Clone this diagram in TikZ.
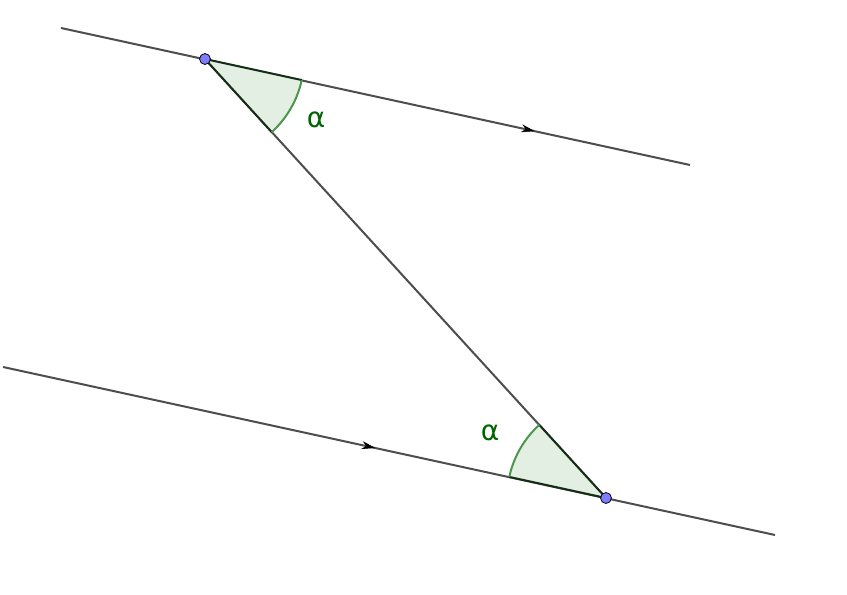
\documentclass[tikz,border=0pt]{standalone}
\usepackage{fontspec}
\newfontfamily\anglefont{DejaVu Sans}
\usetikzlibrary{arrows.meta,decorations.markings}

\definecolor{lineGray}{RGB}{77,77,77}
\definecolor{edgeDark}{RGB}{20,45,20}
\definecolor{arcGreen}{RGB}{76,150,76}
\definecolor{fillGreen}{RGB}{228,239,228}
\definecolor{labelGreen}{RGB}{0,100,0}
\definecolor{pointBlue}{RGB}{125,125,255}

\tikzset{every picture/.style={line width=0.75pt}}
\tikzset{
  parline/.style={draw=lineGray, line width=1.5pt},
  sectoredge/.style={draw=edgeDark, line width=1.5pt},
  sectorarc/.style={draw=arcGreen, line width=1.5pt},
  anglelabel/.style={text=labelGreen, font=\anglefont\fontsize{21}{21}\selectfont, inner sep=0.75pt},
  ggbpoint/.style={circle, fill=pointBlue, draw=black, line width=0.6pt, inner sep=0pt, minimum size=8.2pt},
  midmark/.style={postaction={decorate, decoration={markings,
    mark=at position #1 with {\arrow[black, line width=0.4pt]{Stealth[length=10pt, width=6pt, fill=black]}}}}}
}

\begin{document}
\begin{tikzpicture}[x=0.75pt,y=0.75pt,yscale=-1,xscale=1]
\useasboundingbox (0,0) rectangle (847,595);

% line ends and the two points
\coordinate (T1) at (61,28);
\coordinate (T2) at (690,165);
\coordinate (U1) at (3,367);
\coordinate (U2) at (775,535);
\coordinate (A) at (205,59);
\coordinate (B) at (606,498);

% parallel lines and the transversal
\draw [parline, midmark=0.753] (T1) -- (T2);
\draw [parline, midmark=0.482] (U1) -- (U2);
\draw [parline] (A) -- (B);

% angle at A
\fill [fillGreen] (A) -- ++(12.29:99) arc [start angle=12.29, end angle=47.6, radius=99] -- cycle;
\draw [sectoredge] (A) ++(12.29:99) -- (A) -- ++(47.6:99);
\draw [sectorarc] (A) ++(12.29:99) arc [start angle=12.29, end angle=47.6, radius=99];

% angle at B
\fill [fillGreen] (B) -- ++(192.29:99) arc [start angle=192.29, end angle=227.6, radius=99] -- cycle;
\draw [sectoredge] (B) ++(192.29:99) -- (B) -- ++(227.6:99);
\draw [sectorarc] (B) ++(192.29:99) arc [start angle=192.29, end angle=227.6, radius=99];

\node [anglelabel] (alphaA) at (316,120) {α};
\node [anglelabel] (alphaB) at (490,433) {α};

\node [ggbpoint] (pA) at (A) {};
\node [ggbpoint] (pB) at (B) {};
\end{tikzpicture}
\end{document}
